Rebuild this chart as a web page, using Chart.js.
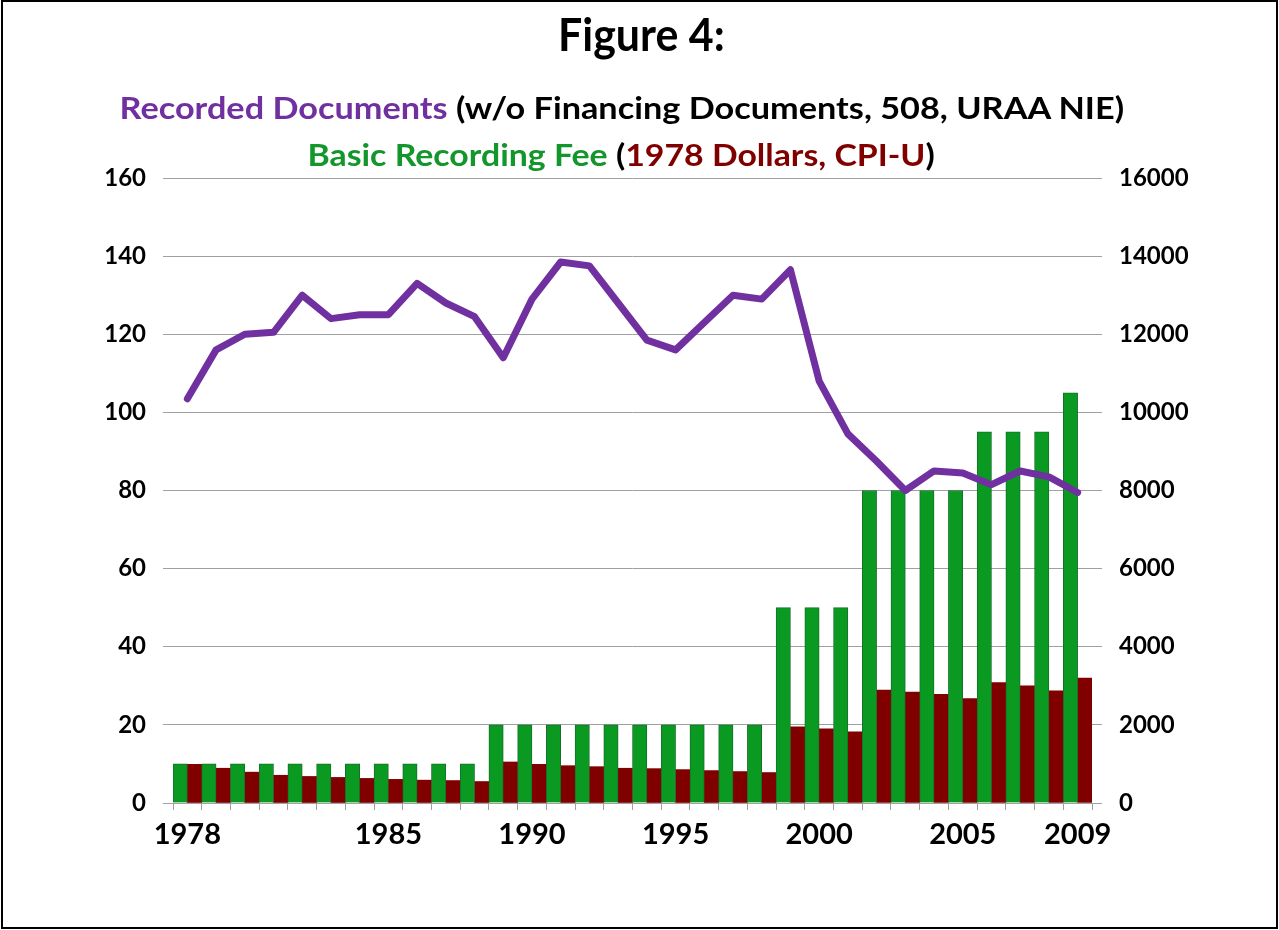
<!DOCTYPE html>
<html>
<head>
<meta charset="utf-8">
<script src="https://cdn.jsdelivr.net/npm/chart.js@4.4.1/dist/chart.umd.min.js"></script>
<style>
  html, body { margin:0; padding:0; background:#fff; }
  #wrap { position:relative; width:1279px; height:930px; overflow:hidden; }
  #frame { position:absolute; left:1px; top:0; width:1273px; height:925px; border:2px solid #000; pointer-events:none; }
  .t { position:absolute; white-space:nowrap; font-family:Lato, "Open Sans", sans-serif; font-weight:700; line-height:1; transform-origin:center top; }
  .purple { color:#7030a0; } .green { color:#13962b; } .maroon { color:#800000; }
</style>
</head>
<body>
<div id="wrap">
  <canvas id="c" width="1279" height="930"></canvas>
  <div class="t" id="t0" data-cx="641" data-w="167" style="top:12px;font-size:45px">Figure 4:</div>
  <div class="t" id="t1" data-cx="622" data-w="1005" style="top:92px;font-size:30px"><span class="purple">Recorded Documents</span> (w/o Financing Documents, 508, URAA NIE)</div>
  <div class="t" id="t2" data-cx="621" data-w="627" style="top:139px;font-size:30px"><span class="green">Basic Recording Fee</span> (<span class="maroon">1978 Dollars, CPI-U</span>)</div>
  <div id="frame"></div>
</div>
<script>
// Gebyr og dokumenter 1978–2009
const years = [1978,1979,1980,1981,1982,1983,1984,1985,1986,1987,1988,1989,1990,1991,1992,1993,
               1994,1995,1996,1997,1998,1999,2000,2001,2002,2003,2004,2005,2006,2007,2008,2009];
const shownYears = [1978,1985,1990,1995,2000,2005,2009];

// basic recording fee, nominal $ (left axis)
const feeNominal = [10,10,10,10,10,10,10,10,10,10,10,
                    20,20,20,20,20,20,20,20,20,20,
                    50,50,50, 80,80,80,80, 95,95,95, 105];
// same fee in 1978 dollars (CPI-U)
const fee1978 = [9.9,8.9,7.9,7.1,6.8,6.55,6.3,6.05,5.85,5.75,5.5,
                 10.5,9.9,9.55,9.3,8.9,8.8,8.55,8.3,8.05,7.8,
                 19.5,19.0,18.2, 28.9,28.4,27.8,26.7, 30.8,30.0,28.7, 32.0];
// recorded documents (right axis)
const recordedDocs = [10350,11600,12000,12050,13000,12400,12500,12500,13300,12800,12450,11400,12900,
                      13850,13750,12800,11850,11600,12300,13000,12900,13650,10800,
                      9450,8750,8000,8500,8450,8150,8500,8350,7950];

const leftTicks = { min:0, max:160, step:20 };
const rightTicks = { min:0, max:16000, step:2000 };

const GRID = "#a0a0a0";
const FONT = "Lato, 'Open Sans', sans-serif";

// titler: tilpass bredde til originalen
function fitTitles() {
  document.querySelectorAll(".t").forEach((el) => {
    const w = el.offsetWidth, target = +el.dataset.w, cx = +el.dataset.cx;
    el.style.left = (cx - w/2) + "px";
    el.style.transform = `scaleX(${target / w})`;
  });
}
(document.fonts ? document.fonts.ready : Promise.resolve()).then(fitTitles);
fitTitles();

const tickFont = { family:FONT, size:24, weight:"bold" };

new Chart(document.getElementById("c"), {
  data: {
    labels: years,
    datasets: [
      { type:"line", data: recordedDocs, yAxisID:"y1", order:0,
        borderColor:"#7030a0", borderWidth:7, pointRadius:0, tension:0,
        borderJoinStyle:"round", borderCapStyle:"round" },
      { type:"bar", data: feeNominal, yAxisID:"y", order:1,
        backgroundColor:"#0a9a22", borderColor:"#16702a", borderWidth:1,
        barPercentage:1, categoryPercentage:1 },
      { type:"bar", data: fee1978, yAxisID:"y", order:1,
        backgroundColor:"#800000", borderWidth:0,
        barPercentage:1, categoryPercentage:1 },
    ],
  },
  options: {
    responsive:false, devicePixelRatio:1, animation:false,
    layout:{ padding:{ top:178, left:0, right:0, bottom:0 } },
    plugins:{ legend:{ display:false }, title:{ display:false }, tooltip:{ enabled:false } },
    scales:{
      x:{
        type:"category", offset:true,
        grid:{ offset:true, drawOnChartArea:false, tickLength:7, color:GRID },
        border:{ display:true, color:GRID },
        ticks:{ autoSkip:false, maxRotation:0, padding:7, color:"#000",
          font:{ family:FONT, size:29, weight:"bold" },
          callback:(v, i) => shownYears.includes(years[i]) ? String(years[i]) : "" },
        afterFit:(s) => { s.height = 127; },
      },
      y:{
        position:"left", min:leftTicks.min, max:leftTicks.max,
        grid:{ color:GRID, tickLength:10 },
        border:{ display:false },
        ticks:{ stepSize:leftTicks.step, padding:17, color:"#000", font:tickFont,
          callback:(v) => String(v) },
        afterFit:(s) => { s.width = 173; },
      },
      y1:{
        position:"right", min:rightTicks.min, max:rightTicks.max,
        grid:{ drawOnChartArea:false, color:GRID, tickLength:10 },
        border:{ display:false },
        ticks:{ stepSize:rightTicks.step, padding:17, color:"#000", font:tickFont,
          callback:(v) => String(v) },
        afterFit:(s) => { s.width = 187; },
      },
    },
  },
});
</script>
</body>
</html>
